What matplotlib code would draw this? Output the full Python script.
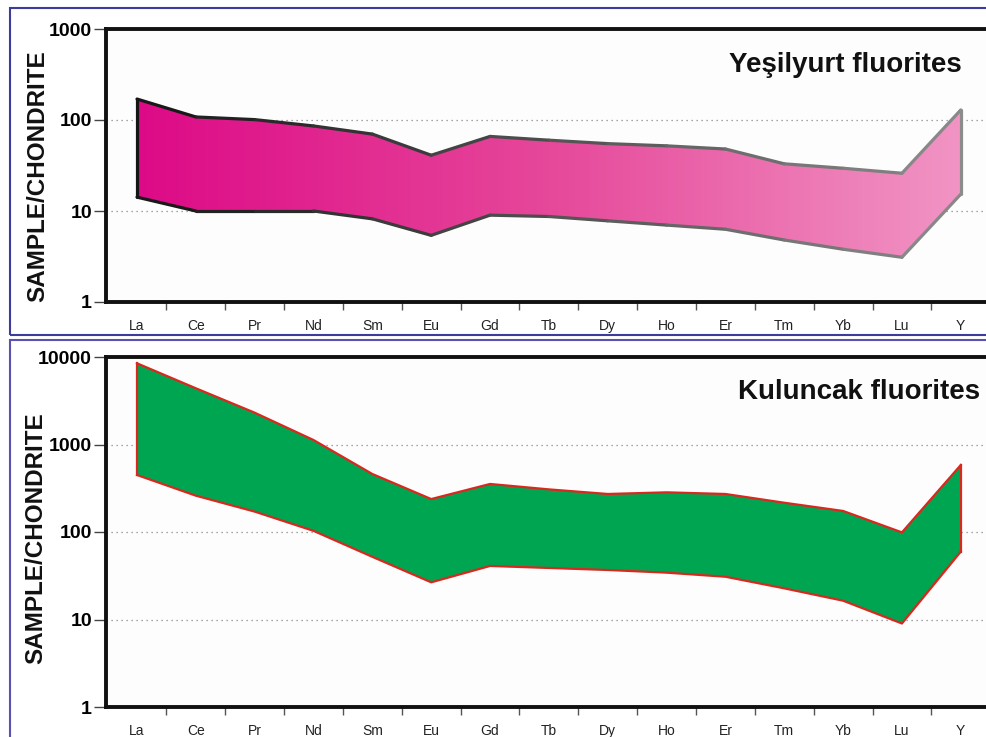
import numpy as np
import matplotlib
matplotlib.use('Agg')
import matplotlib.pyplot as plt
from matplotlib.colors import LinearSegmentedColormap, to_rgb
from matplotlib.collections import LineCollection
from matplotlib.patches import Polygon, Rectangle
from matplotlib.ticker import NullLocator

plt.rcParams['font.family'] = ['Liberation Sans', 'DejaVu Sans']

elements = ['La', 'Ce', 'Pr', 'Nd', 'Sm', 'Eu', 'Gd', 'Tb', 'Dy', 'Ho',
            'Er', 'Tm', 'Yb', 'Lu', 'Y']

# chondrite-normalised ranges (max / min)
yes_upper = [170, 108, 101, 86, 70, 41, 66, 60, 55, 52, 48, 33, 29.5, 26, 129]
yes_lower = [14.2, 10, 10, 10, 8.2, 5.4, 9.0, 8.7, 7.8, 7.0, 6.3, 4.8, 3.8, 3.1, 15.3]

kul_upper = [8470, 4390, 2310, 1125, 460, 238, 354, 307, 272, 284, 272, 216, 174, 99, 583]
kul_lower = [448, 260, 171, 103, 52, 26.6, 40.9, 38.8, 36.8, 34.3, 30.8, 22.7, 16.4, 9.0, 59.6]

W, H = 987, 737
fig = plt.figure(figsize=(W / 100, H / 100), dpi=100)
fig.patch.set_facecolor('white')

x = np.arange(len(elements))
left = 106 / W
width = (990.2 - 106) / W


def setup_axes(ax, ymax, yticks, grid_vals):
    ax.set_yscale('log')
    ax.set_xlim(-0.527, 14.5)
    ax.set_ylim(1, ymax)
    ax.set_facecolor('#fdfdfd')
    for s in ax.spines.values():
        s.set_linewidth(2.8)
        s.set_color('#111111')
    ax.set_xticks(x, elements)
    ax.set_xticks(x[:-1] + 0.5, minor=True)
    ax.tick_params(axis='x', which='major', length=0, pad=12,
                   labelsize=10, labelcolor='#222222')
    ax.tick_params(axis='x', which='minor', length=6, width=1,
                   color='#555555', direction='out')
    ax.set_yticks(yticks, [str(v) for v in yticks])
    ax.yaxis.set_minor_locator(NullLocator())
    ax.tick_params(axis='y', which='major', length=9, width=1,
                   color='#444444', pad=1, labelsize=14)
    for lab in ax.get_yticklabels():
        lab.set_fontweight('bold')
    for g in grid_vals:
        ax.axhline(g, color='#888888', lw=0.9, ls=(0, (1, 3)), zorder=0.5)


# ---------------- top panel: Yesilyurt ----------------
ax1 = fig.add_axes([left, 1 - 302 / H, width, 273 / H])
setup_axes(ax1, 1000, [1, 10, 100, 1000], [10, 100])

verts = list(zip(x, yes_upper)) + list(zip(x[::-1], yes_lower[::-1]))
clip = Polygon(verts, closed=True, facecolor='none', edgecolor='none',
               transform=ax1.transData)
ax1.add_patch(clip)
pink = LinearSegmentedColormap.from_list('pink', ['#dd0a87', '#e6489a', '#f194c4'])
grad = np.linspace(0, 1, 256).reshape(1, -1)
img = ax1.imshow(grad, cmap=pink, extent=(0, 14, 1, 1000), aspect='auto',
                 origin='lower', zorder=1)
img.set_clip_path(clip)

c0 = np.array(to_rgb('#151515'))
c1 = np.array(to_rgb('#8c8c8c'))
segs, cols = [], []
for arr in (yes_upper, yes_lower):
    for i in range(len(x) - 1):
        segs.append([(x[i], arr[i]), (x[i + 1], arr[i + 1])])
        t = (i + 0.5) / (len(x) - 1)
        cols.append(c0 + (c1 - c0) * t)
segs.append([(x[0], yes_lower[0]), (x[0], yes_upper[0])])
cols.append(c0)
segs.append([(x[-1], yes_lower[-1]), (x[-1], yes_upper[-1])])
cols.append(c1)
lc = LineCollection(segs, colors=cols, linewidths=2.3, capstyle='round',
                    joinstyle='round', zorder=2)
ax1.add_collection(lc)
ax1.set_xlim(-0.527, 14.5)
ax1.set_ylim(1, 1000)

# ---------------- bottom panel: Kuluncak ----------------
ax2 = fig.add_axes([left, 1 - 707 / H, width, 350 / H])
setup_axes(ax2, 10000, [1, 10, 100, 1000, 10000], [10, 100, 1000])
ax2.fill_between(x, kul_lower, kul_upper, facecolor='#00a551',
                 edgecolor='none', zorder=1)
ax2.plot(x, kul_upper, color='#d9281e', lw=1.6, zorder=2)
ax2.plot(x, kul_lower, color='#d9281e', lw=1.6, zorder=2)
ax2.plot([x[0], x[0]], [kul_lower[0], kul_upper[0]], color='#d9281e', lw=1.6, zorder=2)
ax2.plot([x[-1], x[-1]], [kul_lower[-1], kul_upper[-1]], color='#d9281e', lw=1.6, zorder=2)

# ---------------- texts ----------------
fig.text(38 / W, 1 - 176 / H, 'SAMPLE/CHONDRITE', rotation=90, ha='center',
         va='center', fontsize=17.5, fontweight='bold', color='#111111')
fig.text(36 / W, 1 - 538 / H, 'SAMPLE/CHONDRITE', rotation=90, ha='center',
         va='center', fontsize=17.5, fontweight='bold', color='#111111')
fig.text(962 / W, 1 - 72 / H, 'Yeşilyurt fluorites', ha='right',
         va='baseline', fontsize=20, fontweight='bold', color='#111111')
fig.text(980 / W, 1 - 399 / H, 'Kuluncak fluorites', ha='right',
         va='baseline', fontsize=20, fontweight='bold', color='#111111')

# ---------------- outer frames ----------------
fig.add_artist(Rectangle((10 / W, 1 - 335 / H), 1.2, (335 - 8) / H,
                         transform=fig.transFigure, fill=False,
                         edgecolor='#3c3c9c', lw=1.5, clip_on=False))
fig.add_artist(Rectangle((10 / W, -0.2), 1.2, 0.2 + (737 - 340) / H,
                         transform=fig.transFigure, fill=False,
                         edgecolor='#5a52b0', lw=1.5, clip_on=False))

fig.savefig('out.png', dpi=100)
